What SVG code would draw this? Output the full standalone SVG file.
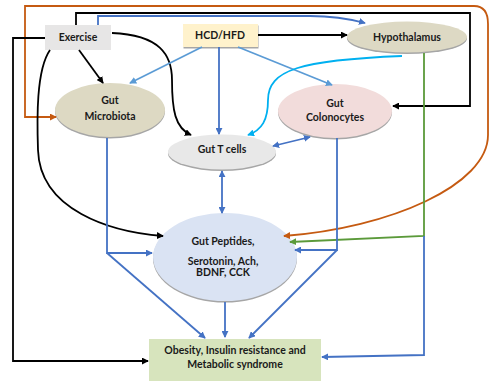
<svg xmlns="http://www.w3.org/2000/svg" width="490" height="382" viewBox="0 0 490 382">
<defs>
<style>
text{font-family:Lato,"Liberation Sans",sans-serif;font-weight:bold;font-size:10.5px;fill:#1a1a1a;text-anchor:middle}
.c{fill:none;stroke-width:1.8}
.k{stroke:#000}
.b{stroke:#4472c4}
.lb{stroke:#5b9bd5}
.cy{stroke:#00b0f0}
.g{stroke:#5b9a3a}
.o{stroke:#c55a11}
.sh{fill:#a6a6a6}
</style>
<marker id="ak" viewBox="0 0 8 8" refX="7" refY="4" markerWidth="7" markerHeight="7" markerUnits="userSpaceOnUse" orient="auto-start-reverse"><path d="M0,0 L8,4 L0,8 z" fill="#000"/></marker>
<marker id="ab" viewBox="0 0 8 8" refX="7" refY="4" markerWidth="7" markerHeight="7" markerUnits="userSpaceOnUse" orient="auto-start-reverse"><path d="M0,0 L8,4 L0,8 z" fill="#4472c4"/></marker>
<marker id="alb" viewBox="0 0 8 8" refX="7" refY="4" markerWidth="7" markerHeight="7" markerUnits="userSpaceOnUse" orient="auto-start-reverse"><path d="M0,0 L8,4 L0,8 z" fill="#5b9bd5"/></marker>
<marker id="acy" viewBox="0 0 8 8" refX="7" refY="4" markerWidth="7" markerHeight="7" markerUnits="userSpaceOnUse" orient="auto-start-reverse"><path d="M0,0 L8,4 L0,8 z" fill="#00b0f0"/></marker>
<marker id="ag" viewBox="0 0 8 8" refX="7" refY="4" markerWidth="7" markerHeight="7" markerUnits="userSpaceOnUse" orient="auto-start-reverse"><path d="M0,0 L8,4 L0,8 z" fill="#5b9a3a"/></marker>
<marker id="ao" viewBox="0 0 8 8" refX="7" refY="4" markerWidth="7" markerHeight="7" markerUnits="userSpaceOnUse" orient="auto-start-reverse"><path d="M0,0 L8,4 L0,8 z" fill="#c55a11"/></marker>
</defs>
<rect width="490" height="382" fill="#fff"/>

<g id="exercise">
<rect x="45" y="25" width="66" height="25" fill="#e7e6e6"/>
<text x="78" y="41">Exercise</text>
</g>
<g id="hcd">
<rect x="183.5" y="25.5" width="75" height="23" class="sh"/>
<rect x="183" y="24" width="75" height="23" fill="#fff2cc"/>
<text x="220" y="39">HCD/HFD</text>
</g>
<g id="hypothalamus">
<ellipse cx="407" cy="38.5" rx="60" ry="15.5" class="sh"/>
<ellipse cx="407" cy="37" rx="60" ry="15.5" fill="#ddd9c4"/>
<text x="407" y="41">Hypothalamus</text>
</g>
<g id="microbiota">
<ellipse cx="110" cy="111.5" rx="55" ry="27" class="sh"/>
<ellipse cx="110" cy="110" rx="55" ry="27" fill="#ddd9c3"/>
<text x="110" y="104">Gut</text>
<text x="110" y="120">Microbiota</text>
</g>
<g id="colonocytes">
<ellipse cx="335" cy="112.5" rx="57" ry="27" class="sh"/>
<ellipse cx="335" cy="111" rx="57" ry="27" fill="#f2dcdb"/>
<text x="335" y="107">Gut</text>
<text x="335" y="121">Colonocytes</text>
</g>
<g id="tcells">
<ellipse cx="222" cy="153.5" rx="54" ry="17.5" class="sh"/>
<ellipse cx="222" cy="152" rx="54" ry="17.5" fill="#e8e8e8"/>
<text x="222" y="153">Gut T cells</text>
</g>
<g id="peptides">
<ellipse cx="225" cy="258.5" rx="72" ry="44" class="sh"/>
<ellipse cx="225" cy="257" rx="72" ry="44" fill="#dae3f3"/>
<text x="223" y="245" font-size="9.5">Gut Peptides,</text>
<text x="223" y="265" font-size="9.5">Serotonin, Ach,</text>
<text x="223" y="276" font-size="9.5">BDNF, CCK</text>
</g>
<g id="obesity">
<rect x="149" y="339" width="172" height="42" fill="#d7e4bd"/>
<text x="235" y="354">Obesity, Insulin resistance and</text>
<text x="235" y="368">Metabolic syndrome</text>
</g>

<g id="connectors">
<path class="c o" d="M56 117 H25 V6 H474 Q488 6 488 24 V135 C488 185 390 228 284 236" marker-start="url(#ao)" marker-end="url(#ao)"/>
<path class="c k" d="M76 25 V13 H470 V106 H393" marker-end="url(#ak)"/>
<path class="c b" d="M98 25 V16 H310 C335 16 350 19 365 23" marker-end="url(#ab)"/>
<path class="c k" d="M45 38 H13 V361 H148" marker-end="url(#ak)"/>
<path class="c k" d="M50 50 C36 70 37 120 38 150 C40 210 110 232 163 236" marker-end="url(#ak)"/>
<path class="c k" d="M79 50 L103 83" marker-end="url(#ak)"/>
<path class="c k" d="M112 33 C160 35 172 55 172 80 C172 110 175 128 191 135" marker-end="url(#ak)"/>
<path class="c k" d="M258 35 H347" marker-end="url(#ak)"/>
<path class="c lb" d="M202 47 L130 83" marker-end="url(#alb)"/>
<path class="c b" d="M219 47 V134" marker-end="url(#ab)"/>
<path class="c lb" d="M238 47 L332 85" marker-end="url(#alb)"/>
<path class="c cy" d="M402 56 C300 60 268 70 268 100 C268 120 262 130 248 135" marker-end="url(#acy)"/>
<path class="c g" d="M424 53 V236 L290 242" marker-end="url(#ag)"/>
<path class="c b" d="M273 146 L310 137" marker-start="url(#ab)" marker-end="url(#ab)"/>
<path class="c b" d="M222 171 V213" marker-start="url(#ab)" marker-end="url(#ab)"/>
<path class="c b" d="M107 138 V253 H152" marker-end="url(#ab)"/>
<path class="c b" d="M107 253 L205 338" marker-end="url(#ab)"/>
<path class="c b" d="M337 138 V250 H295" marker-end="url(#ab)"/>
<path class="c b" d="M337 250 L249 338" marker-end="url(#ab)"/>
<path class="c b" d="M225 302 V337" marker-end="url(#ab)"/>
<path class="c b" d="M424 236 V355 L322 357" marker-end="url(#ab)"/>
</g>
</svg>
